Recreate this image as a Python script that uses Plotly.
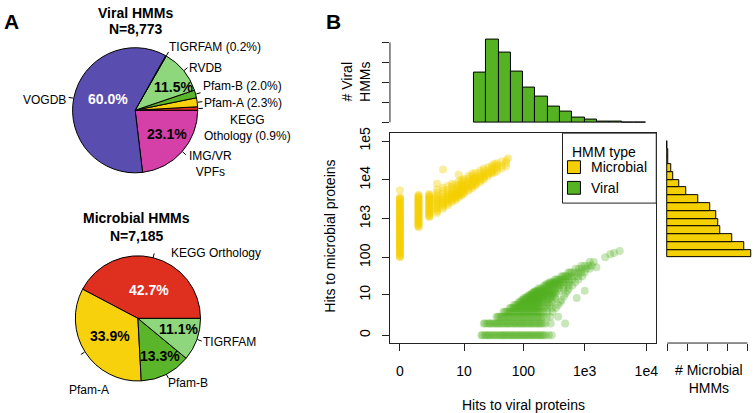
import math
import plotly.graph_objects as go

W, H = 754, 413

# ---------------- data ----------------
viral_labels = ["IMG/VR VPFs", "KEGG Othology", "Pfam-A", "Pfam-B", "RVDB", "TIGRFAM", "VOGDB"]
viral_pct = [23.1, 0.9, 2.3, 2.0, 11.5, 0.2, 60.0]
microbial_labels = ["KEGG Orthology", "Pfam-A", "Pfam-B", "TIGRFAM"]
microbial_pct = [42.7, 33.9, 13.3, 11.1]

# histogram of viral HMMs along x (log10(hits+1) bins, lower edges)
viral_bins = [1.2, 1.4, 1.6, 1.8, 2.0, 2.2, 2.4, 2.6, 2.8, 3.0, 3.2, 3.4, 3.6, 3.8]
viral_counts = [1235, 2074, 1736, 1274, 872, 642, 385, 279, 123, 57, 25, 7, 5, 2]
# histogram of microbial HMMs along y
microbial_bins = [2.0, 2.2, 2.4, 2.6, 2.8, 3.0, 3.2, 3.4, 3.6, 3.8, 4.0, 4.2, 4.4, 4.6, 4.8]
microbial_counts = [1259, 1154, 970, 791, 766, 727, 637, 463, 289, 174, 95, 55, 20, 10, 5]
bin_width = 0.2

x_tick_values = [0, 10, 100, 1000, 10000]
x_tick_text = ["0", "10", "100", "1e3", "1e4"]
y_tick_values = [0, 10, 100, 1000, 10000, 100000]
y_tick_text = ["0", "10", "100", "1e3", "1e4", "1e5"]
viral_hist_ticks = [0, 500, 1000, 1500, 2000]
microbial_hist_ticks = [0, 300, 600, 900, 1200]

# scatter points: (hits to viral proteins, hits to microbial proteins)
microbial_points = (
    [(0, v) for v in [100, 105, 110, 118, 125, 132, 140, 150, 160, 170, 180, 190, 200, 212, 225, 238,
                      250, 265, 280, 300, 320, 340, 360, 380, 400, 425, 450, 475, 500, 530, 560, 600,
                      630, 670, 710, 750, 800, 850, 900, 950, 1000, 1060, 1120, 1180, 1250, 1320, 1400,
                      1500, 1600, 1700, 1800, 1900, 2000, 2120, 2250, 2380, 2500, 2650, 2800, 3000,
                      3200, 3350, 3500, 5400]]
    + [(1, v) for v in [600, 640, 680, 720, 760, 800, 850, 900, 950, 1000, 1060, 1120, 1180, 1250, 1320,
                        1400, 1480, 1560, 1650, 1750, 1850, 1960, 2070, 2180, 2300, 2450, 2600, 2750,
                        2900, 3050, 3250, 3450, 3650, 3850, 4100]]
    + [(2, v) for v in [1100, 1160, 1230, 1300, 1380, 1460, 1550, 1640, 1730, 1830, 1940, 2050, 2170,
                        2300, 2430, 2570, 2720, 2880, 3050, 3220, 3400, 3600, 3800, 4050, 4300]]
    + [(3, v) for v in [1400, 1550, 1700, 1850, 2000, 2200, 2400, 2600, 2800, 3050, 3300, 3650, 4000,
                        4700, 5600, 7900]]
    + [(4, v) for v in [1800, 2000, 2200, 2400, 2600, 2850, 3100, 3400, 3700, 4400, 5300, 6300, 18500]]
    + [(5, v) for v in [2200, 2450, 2700, 2950, 3200, 3500, 3800, 4200, 4600, 5500, 7000]]
    + [(6, v) for v in [2700, 2950, 3200, 3550, 3900, 4300, 4700, 5600, 6700, 7900]]
    + [(7, v) for v in [3000, 3300, 3600, 3950, 4300, 4750, 5200, 6300, 7600]]
    + [(8, v) for v in [3500, 3850, 4200, 4600, 5000, 5500, 6000, 7300, 9000, 13500]]
    + [(9, v) for v in [4000, 4400, 4800, 5300, 5800, 6400, 7000, 8400, 10000]]
    + [(10, v) for v in [4400, 4850, 5300, 5850, 6400, 7000, 7700, 9200, 10500]]
    + [(12, v) for v in [5200, 5750, 6300, 6900, 7600, 8300, 9100, 10900, 12600]]
    + [(14, v) for v in [6200, 6850, 7500, 8200, 9000, 9900, 10800, 12800, 14500]]
    + [(16, v) for v in [7100, 7800, 8500, 9300, 10200, 11200, 12200, 15000]]
    + [(19, v) for v in [8700, 9500, 10400, 11400, 12400, 14800, 17400]]
    + [(22, v) for v in [10200, 11100, 12100, 13200, 14300, 17000, 19500]]
    + [(26, v) for v in [12600, 13700, 14800, 17400, 21000]]
    + [(30, v) for v in [14500, 15700, 17000, 20000, 23400]]
    + [(33, v) for v in [15500, 18500, 22000, 26000]]
    + [(37, v) for v in [17000, 20000, 23500, 26900]]
    + [(44, v) for v in [19500, 23000, 29500]]
    + [(52, v) for v in [22400, 27000, 31600]]
    + [(56, 36000)]
)

viral_points = (
    [(v, 0) for v in [20, 21, 23, 24, 26, 27, 29, 31, 33, 35, 37, 40, 42, 45, 47, 50, 53, 56, 60, 63,
                      67, 71, 75, 80, 85, 90, 95, 101, 107, 113, 120, 127, 135, 142, 150, 160, 170,
                      180, 190, 202, 215, 230, 260, 290]]
    + [(v, 1) for v in [22, 23, 25, 27, 28, 30, 32, 34, 36, 38, 40, 43, 45, 48, 51, 54, 57, 60, 64, 68,
                        72, 76, 81, 86, 91, 96, 102, 108, 115, 122, 130, 137, 145, 155, 165, 175, 185,
                        197, 210, 230, 280, 480]]
    + [(v, 2) for v in [36, 38, 40, 43, 45, 48, 51, 54, 57, 60, 64, 68, 72, 76, 81, 86, 91, 96, 102, 108,
                        115, 122, 130, 137, 145, 155, 165, 175, 185, 197, 210, 240, 275, 370]]
    + [(v, 3) for v in [47, 50, 53, 56, 60, 63, 67, 71, 75, 80, 85, 90, 95, 101, 107, 113, 120, 127, 135,
                        142, 150, 160, 170, 180, 190, 215, 245, 300]]
    + [(v, 4) for v in [60, 63, 67, 71, 75, 80, 85, 90, 95, 101, 107, 113, 120, 127, 135, 142, 150, 160,
                        170, 180, 190, 215, 245, 290, 340]]
    + [(v, 5) for v in [70, 75, 79, 84, 89, 95, 100, 106, 112, 119, 126, 134, 142, 151, 160, 170, 180,
                        205, 235, 270, 370]]
    + [(v, 6) for v in [83, 88, 93, 99, 105, 111, 118, 125, 133, 141, 150, 160, 170, 181, 192, 218, 250,
                        290, 400]]
    + [(v, 7) for v in [93, 99, 105, 111, 118, 125, 133, 141, 150, 160, 170, 181, 192, 218, 250, 300, 420]]
    + [(v, 8) for v in [102, 108, 115, 122, 130, 138, 146, 155, 165, 175, 186, 210, 240, 275, 330, 740]]
    + [(v, 9) for v in [115, 122, 130, 138, 146, 155, 165, 175, 186, 198, 210, 240, 275, 320, 460]]
    + [(v, 10) for v in [126, 134, 142, 151, 160, 170, 180, 192, 205, 230, 260, 300]]
    + [(v, 11) for v in [138, 146, 155, 165, 175, 186, 198, 211, 225, 255, 290, 340, 490]]
    + [(v, 12) for v in [148, 157, 167, 178, 190, 202, 215, 240, 270, 310]]
    + [(v, 13) for v in [158, 168, 178, 189, 200, 213, 226, 256, 290, 330, 380, 525, 1000]]
    + [(v, 15) for v in [178, 189, 200, 213, 226, 240, 256, 290, 330, 380, 450, 550]]
    + [(v, 18) for v in [218, 231, 245, 260, 276, 294, 312, 352, 400, 460, 540, 630]]
    + [(v, 20) for v in [240, 265, 290, 320, 350, 390]]
    + [(v, 22) for v in [268, 284, 300, 320, 340, 362, 385, 435, 495, 560, 700]]
    + [(v, 26) for v in [330, 350, 370, 395, 420, 450, 480, 545, 620, 790]]
    + [(v, 32) for v in [420, 445, 470, 500, 530, 600, 680, 780, 910]]
    + [(v, 40) for v in [540, 575, 610, 690, 780, 880, 1000]]
    + [(v, 50) for v in [710, 800, 900, 1050, 1200]]
    + [(v, 60) for v in [890, 1000, 1150, 1300]]
    + [(1550, 55), (1200, 75), (1400, 75), (2150, 100), (2600, 120), (3000, 130), (3700, 147)]
)

# ---------------- styling ----------------
FONT = "Liberation Sans, Arial, Helvetica, sans-serif"
PIE_COLORS = {
    "IMG/VR VPFs": "#D43FA8", "KEGG Othology": "#DE2F1F", "KEGG Orthology": "#DE2F1F",
    "Pfam-A": "#F6D10C", "Pfam-B": "#5BB52B", "RVDB": "#8ED77C", "TIGRFAM": "#8ED77C",
    "VOGDB": "#5A4DB0",
}
YELLOW = "#F5D000"
GREEN = "#55B223"
AXC = "#222222"


def t(v):
    return math.log10(v + 1)


def px(x):
    return x / W


def py(y):
    return 1 - y / H


fig = go.Figure()

# ---------------- pies ----------------
V_CX, V_CY, V_R = 135.5, 105.8, 63.5
M_CX, M_CY, M_R = 138.3, 317.0, 63.5
v_total = sum(viral_pct)
m_total = sum(microbial_pct)

fig.add_trace(go.Pie(
    labels=viral_labels, values=viral_pct, sort=False, direction="counterclockwise", rotation=90,
    marker=dict(colors=[PIE_COLORS[l] for l in viral_labels], line=dict(color="black", width=1)),
    textinfo="none", hoverinfo="skip", showlegend=False,
    domain=dict(x=[px(V_CX - V_R), px(V_CX + V_R)], y=[py(V_CY + V_R), py(V_CY - V_R)]),
))
fig.add_trace(go.Pie(
    labels=microbial_labels, values=microbial_pct, sort=False, direction="counterclockwise",
    rotation=90 - 360 * microbial_pct[0] / m_total,
    marker=dict(colors=[PIE_COLORS[l] for l in microbial_labels], line=dict(color="black", width=1)),
    textinfo="none", hoverinfo="skip", showlegend=False,
    domain=dict(x=[px(M_CX - M_R), px(M_CX + M_R)], y=[py(M_CY + M_R), py(M_CY - M_R)]),
))

shapes = []


def leaders(cx, cy, r, pcts, start_deg):
    total = sum(pcts)
    cum = 0.0
    for p in pcts:
        mid = math.radians(start_deg + (cum + p / 2) / total * 360)
        cum += p
        x0, y0 = cx + r * math.cos(mid), cy - r * math.sin(mid)
        x1, y1 = cx + 1.07 * r * math.cos(mid), cy - 1.07 * r * math.sin(mid)
        shapes.append(dict(type="line", xref="paper", yref="paper", x0=px(x0), y0=py(y0),
                           x1=px(x1), y1=py(y1), line=dict(color="black", width=1)))


leaders(V_CX, V_CY, V_R, viral_pct, -360 * viral_pct[0] / v_total)
leaders(M_CX, M_CY, M_R, microbial_pct, 0)

# ---------------- scatter ----------------
fig.add_trace(go.Scatter(
    x=[t(a) for a, b in microbial_points], y=[t(b) for a, b in microbial_points],
    mode="markers", marker=dict(size=8, color=YELLOW, opacity=0.38, line=dict(width=0)),
    xaxis="x", yaxis="y", showlegend=False, hoverinfo="skip",
))
fig.add_trace(go.Scatter(
    x=[t(a) for a, b in viral_points], y=[t(b) for a, b in viral_points],
    mode="markers", marker=dict(size=8, color=GREEN, opacity=0.32, line=dict(width=0)),
    xaxis="x", yaxis="y", showlegend=False, hoverinfo="skip",
))

# top histogram (viral HMMs)
fig.add_trace(go.Bar(
    x=[b + bin_width / 2 for b in viral_bins], y=viral_counts, width=bin_width,
    marker=dict(color=GREEN, line=dict(color="black", width=1)),
    xaxis="x2", yaxis="y2", showlegend=False, hoverinfo="skip",
))
# right histogram (microbial HMMs)
fig.add_trace(go.Bar(
    y=[b + bin_width / 2 for b in microbial_bins], x=microbial_counts, width=bin_width, orientation="h",
    marker=dict(color=YELLOW, line=dict(color="black", width=1)),
    xaxis="x3", yaxis="y3", showlegend=False, hoverinfo="skip",
))

# ---------------- axes ----------------
SX0, SX1, SY0, SY1 = 391, 658, 129, 342  # scatter box in px
x_range = [-0.162, 4.162]
y_range = [-0.203, 5.203]

common = dict(showgrid=False, zeroline=False)
layout_axes = dict(
    xaxis=dict(domain=[px(SX0), px(SX1)], range=x_range, anchor="y", showline=True, mirror=True,
               linecolor=AXC, linewidth=1, ticks="outside", ticklen=7, tickcolor=AXC,
               tickvals=[t(v) for v in x_tick_values], ticktext=x_tick_text,
               tickfont=dict(size=14, color="black"), ticklabelstandoff=8, **common),
    yaxis=dict(domain=[py(SY1), py(SY0)], range=y_range, anchor="x", showline=True, mirror=True,
               linecolor=AXC, linewidth=1, ticks="outside", ticklen=7, tickcolor=AXC,
               tickvals=[t(v) for v in y_tick_values], ticktext=y_tick_text, tickangle=-90,
               tickfont=dict(size=14, color="black"), ticklabelstandoff=6, **common),
    xaxis2=dict(domain=[px(SX0), px(SX1)], range=x_range, anchor="y2", visible=False, **common),
    yaxis2=dict(domain=[py(121), py(28)], range=[-74, 2222], anchor="x2", showline=False,
                ticks="outside", ticklen=7, tickcolor=AXC, tickvals=viral_hist_ticks,
                showticklabels=False, **common),
    xaxis3=dict(domain=[px(665), 1.0], range=[-59.7, 1268.7], anchor="y3", showline=False,
                ticks="outside", ticklen=7, tickcolor=AXC, tickvals=microbial_hist_ticks,
                showticklabels=False, **common),
    yaxis3=dict(domain=[py(SY1), py(SY0)], range=y_range, anchor="x3", visible=False, **common),
)

# axis lines for histograms (span only first to last tick)
shapes.append(dict(type="line", xref="paper", yref="y2", x0=px(SX0), x1=px(SX0),
                   y0=viral_hist_ticks[0], y1=viral_hist_ticks[-1], line=dict(color=AXC, width=1)))
shapes.append(dict(type="line", xref="x3", yref="paper", x0=microbial_hist_ticks[0],
                   x1=microbial_hist_ticks[-1], y0=py(SY1), y1=py(SY1), line=dict(color=AXC, width=1)))

# legend box
shapes.append(dict(type="rect", xref="paper", yref="paper", x0=px(564), x1=px(SX1), y0=py(200), y1=py(SY0),
                   line=dict(color=AXC, width=1), fillcolor="white"))
shapes.append(dict(type="rect", xref="paper", yref="paper", x0=px(569), x1=px(582), y0=py(170), y1=py(157),
                   line=dict(color="black", width=1), fillcolor=YELLOW))
shapes.append(dict(type="rect", xref="paper", yref="paper", x0=px(569), x1=px(582), y0=py(191), y1=py(178),
                   line=dict(color="black", width=1), fillcolor=GREEN))

# ---------------- text ----------------
annotations = []


def ann(text, x, y, size=12, xanchor="center", color="black", angle=0):
    annotations.append(dict(text=text, x=px(x), y=py(y), xref="paper", yref="paper", showarrow=False,
                            xanchor=xanchor, yanchor="middle", textangle=angle,
                            font=dict(size=size, color=color, family=FONT)))


ann("<b>A</b>", 2, 16, size=21, xanchor="left")
ann("<b>B</b>", 325, 16, size=21, xanchor="left")

ann("<b>Viral HMMs</b>", 136, 7, size=14)
ann("<b>N=8,773</b>", 136, 23, size=14)
ann("<b>Microbial HMMs</b>", 137, 215, size=14)
ann("<b>N=7,185</b>", 137, 233, size=14)

# viral pie labels
ann("TIGRFAM (0.2%)", 167, 42, xanchor="left")
ann("RVDB", 187, 63, xanchor="left")
ann("Pfam-B (2.0%)", 202, 81, xanchor="left")
ann("Pfam-A (2.3%)", 203, 98, xanchor="left")
ann("KEGG<br>Othology (0.9%)", 203, 124, xanchor="left")
ann("IMG/VR<br>VPFs", 187, 160, xanchor="left")
ann("VOGDB", 68, 95, xanchor="right")
ann("<b>60.0%</b>", 108, 94, size=14, color="white")
ann("<b>11.5%</b>", 174, 82, size=14)
ann("<b>23.1%</b>", 167, 130, size=14)

# microbial pie labels
ann("KEGG Orthology", 169, 251, xanchor="left")
ann("TIGRFAM", 202, 341, xanchor="left")
ann("Pfam-B", 166, 383, xanchor="left")
ann("Pfam-A", 67, 390, xanchor="left")
ann("<b>42.7%</b>", 149, 288, size=14, color="white")
ann("<b>33.9%</b>", 110, 335, size=14)
ann("<b>13.3%</b>", 160, 355, size=14)
ann("<b>11.1%</b>", 179, 328, size=14)

# axis titles
ann("Hits to viral proteins", 525, 405, size=14)
ann("Hits to microbial proteins", 330, 234, size=14, angle=-90)
ann("# Viral<br>HMMs", 357, 77, size=14, angle=-90)
ann("# Microbial<br>HMMs", 711, 379, size=14)

# legend text
ann("HMM type", 606, 148, size=14)
ann("Microbial", 591, 163.5, size=14, xanchor="left")
ann("Viral", 591, 184.5, size=14, xanchor="left")

fig.update_layout(
    width=W, height=H, autosize=False, margin=dict(l=0, r=0, t=0, b=0),
    paper_bgcolor="white", plot_bgcolor="rgba(0,0,0,0)",
    font=dict(family=FONT, color="black"),
    shapes=shapes, annotations=annotations, bargap=0,
    **layout_axes,
)

fig.write_html(
    "out.html",
    config={"displayModeBar": False},
    post_script="document.body.style.margin='0px';document.body.style.overflow='hidden';",
)
